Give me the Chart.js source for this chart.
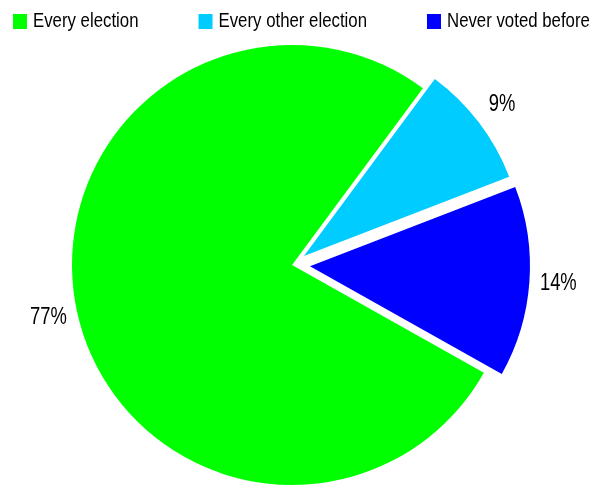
<!DOCTYPE html>
<html>
<head>
<meta charset="utf-8">
<script src="https://cdn.jsdelivr.net/npm/chart.js@4"></script>
<style>
  html, body { margin: 0; padding: 0; background: #ffffff; }
  #wrap { width: 612px; height: 487px; position: relative; }
</style>
</head>
<body>
<div id="wrap"><canvas id="c" width="612" height="487"></canvas></div>
<script>
const categories = ["Every election", "Every other election", "Never voted before"];
const values = [77, 9, 14];
const valueLabels = ["77%", "9%", "14%"];
const colors = ["#00FF00", "#00CCFF", "#0000FF"];
const explode = [0, 15, 18];

const FONT = '"Liberation Sans", Arial, sans-serif';

// Radial explosion of slices (pure translation, radius kept)
const explodePlugin = {
  id: 'explodeSlices',
  afterDatasetUpdate(chart, args) {
    const meta = chart.getDatasetMeta(args.index);
    meta.data.forEach((arc, i) => {
      const d = explode[i] || 0;
      if (!d || arc._explodePatched) return;
      const baseDraw = Chart.ArcElement.prototype.draw;
      arc.draw = function (ctx) {
        const mid = (this.startAngle + this.endAngle) / 2;
        ctx.save();
        ctx.translate(Math.cos(mid) * d, Math.sin(mid) * d);
        baseDraw.call(this, ctx);
        ctx.restore();
      };
      arc._explodePatched = true;
    });
  }
};

const labelPlugin = {
  id: 'outerLabels',
  afterDatasetsDraw(chart) {
    const ctx = chart.ctx;
    const meta = chart.getDatasetMeta(0);
    ctx.save();
    ctx.fillStyle = '#000000';
    ctx.font = '23px ' + FONT;
    ctx.textAlign = 'center';
    ctx.textBaseline = 'middle';
    meta.data.forEach((arc, i) => {
      const p = arc.getProps(['x', 'y', 'startAngle', 'endAngle', 'outerRadius'], true);
      const mid = (p.startAngle + p.endAngle) / 2;
      const R = p.outerRadius + (explode[i] || 0) + 29;
      const px = p.x + Math.cos(mid) * R;
      const py = p.y + Math.sin(mid) * R;
      ctx.save();
      ctx.translate(px, py);
      ctx.scale(0.8, 1);
      ctx.fillText(valueLabels[i], 0, 0);
      ctx.restore();
    });
    ctx.restore();
  }
};

const legendPlugin = {
  id: 'topLegend',
  afterDraw(chart) {
    const ctx = chart.ctx;
    ctx.save();
    ctx.font = '20px ' + FONT;
    ctx.textBaseline = 'alphabetic';
    ctx.textAlign = 'left';
    const sx = 0.84;
    let x = 13;
    categories.forEach((name, i) => {
      ctx.fillStyle = colors[i];
      ctx.fillRect(x, 14, 14, 15);
      ctx.fillStyle = '#000000';
      ctx.save();
      ctx.translate(x + 20, 27);
      ctx.scale(sx, 1);
      ctx.fillText(name, 0, 0);
      ctx.restore();
      const w = ctx.measureText(name).width * sx;
      x = x + 20 + w + 60;
    });
    ctx.restore();
  }
};

new Chart(document.getElementById('c'), {
  type: 'pie',
  data: {
    labels: categories,
    datasets: [{
      data: values,
      backgroundColor: colors,
      borderWidth: 0,
      radius: 220,
      clip: false
    }]
  },
  options: {
    responsive: false,
    animation: false,
    rotation: 119.3,
    layout: { padding: { left: 0, right: 28, top: 43, bottom: 0 } },
    plugins: {
      legend: { display: false },
      tooltip: { enabled: false }
    }
  },
  plugins: [explodePlugin, labelPlugin, legendPlugin]
});
</script>
</body>
</html>
